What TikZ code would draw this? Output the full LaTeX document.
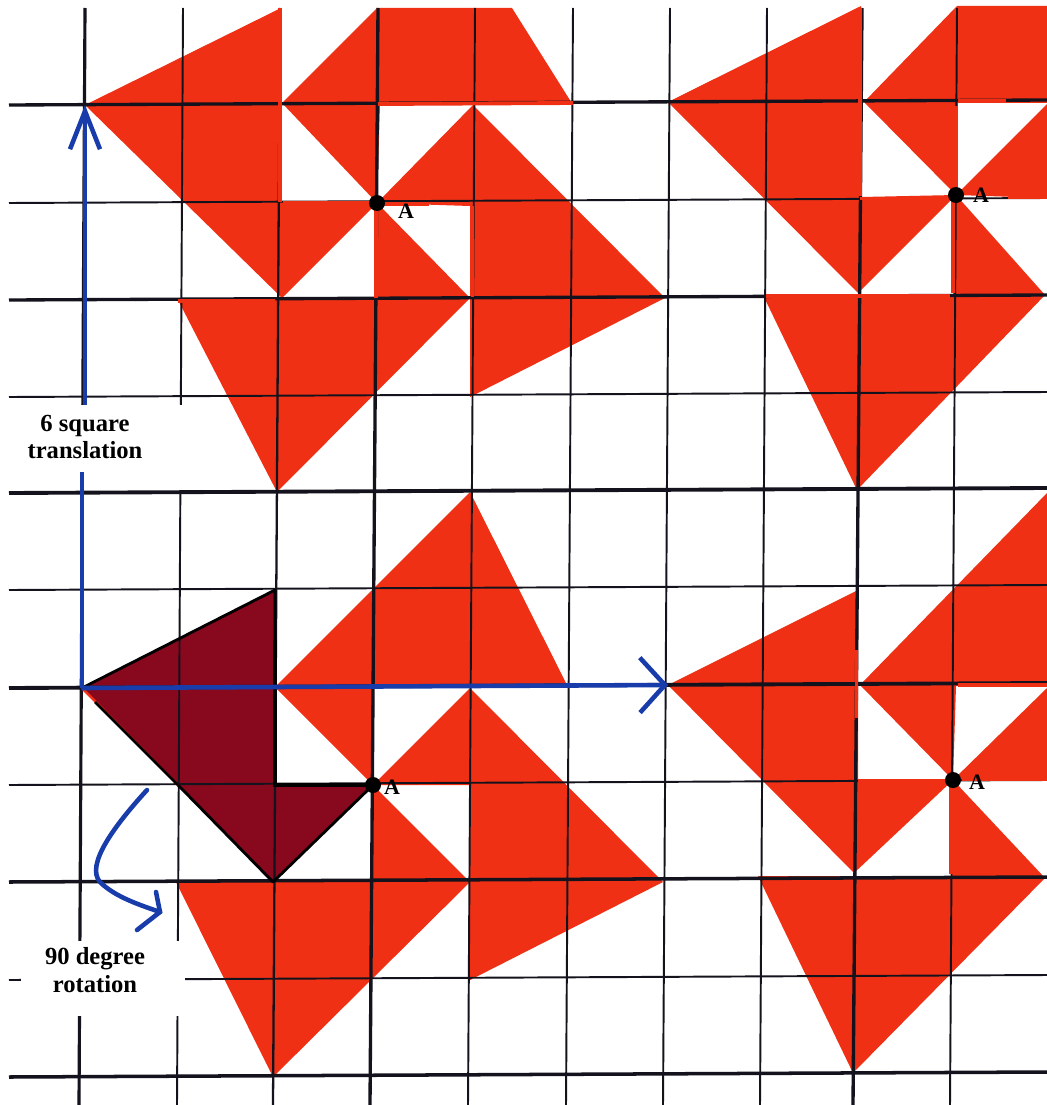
\documentclass[tikz,border=0pt]{standalone}
\usepackage{fontspec}
\setmainfont{Liberation Serif}
\usetikzlibrary{arrows.meta}
\definecolor{tilered}{RGB}{240,48,20}
\definecolor{tiledark}{RGB}{136,8,30}
\definecolor{pathblue}{RGB}{24,60,170}
\definecolor{gridblack}{RGB}{20,18,28}
\newcommand{\titik}[1]{\foreach \p in {#1} \fill[black] (\p) circle (8);}
\tikzset{
  tile/.style={fill=tilered},
  gridline/.style={draw=gridblack,line width=#1},
  path/.style={draw=pathblue,line width=2.6pt},
  caption/.style={font=\bfseries\fontsize{14}{15.5}\selectfont,align=center,inner sep=0pt},
  pointlabel/.style={font=\bfseries\fontsize{12.5}{12.5}\selectfont,inner sep=0pt},
  hidden/.style={draw=tilered,line width=2.2pt},
}

\begin{document}
\begin{tikzpicture}[x=0.02cm,y=-0.02cm]
  \useasboundingbox (0,0) rectangle (1047,1105);
  \fill[white] (0,0) rectangle (1047,1105);

  \coordinate (A1) at (377,203);
  \coordinate (A2) at (956,195);
  \coordinate (A3) at (373,785);
  \coordinate (A4) at (953,780);
  \coordinate (T0) at (82,688);
  \coordinate (T1) at (85,105);
  \coordinate (T2) at (668,685);
  \coordinate (R0) at (147,790);
  \coordinate (R1) at (100,882);
  \coordinate (R2) at (160,912);

  % top left
  \fill[tile] (85,105) -- (281,8) -- (281,201) -- (A1) -- (282,298) -- cycle;
  \fill[tile] (282,103) -- (377,8) -- (512,8) -- (573,105) -- (380,105) -- (A1) -- cycle;
  \fill[tile] (A1) -- (473,105) -- (665,298) -- (470,397) -- (470,206) -- cycle;
  \fill[tile] (A1) -- (470,298) -- (277,492) -- (178,300) -- (374,300) -- cycle;
  % top right
  \fill[tile] (668,102) -- (861,6) -- (861,197) -- (A2) -- (858,293) -- cycle;
  \fill[tile] (864,102) -- (957,6) -- (1047,6) -- (1047,103) -- (958,103) -- (A2) -- cycle;
  \fill[tile] (A2) -- (1047,104) -- (1047,198) -- cycle;
  \fill[tile] (A2) -- (1045,295) -- (857,490) -- (763,295) -- (953,295) -- cycle;
  % bottom left
  \fill[tile] (275,687) -- (470,492) -- (568,687) -- (373,687) -- (A3) -- cycle;
  \fill[tile] (A3) -- (470,688) -- (663,882) -- (470,980) -- (470,785) -- cycle;
  \fill[tile] (A3) -- (470,882) -- (273,1077) -- (176,882) -- (371,882) -- cycle;
  % bottom right
  \fill[tile] (668,685) -- (858,590) -- (858,779) -- (A4) -- (854,873) -- cycle;
  \fill[tile] (860,685) -- (1047,493) -- (1047,685) -- (956,686) -- (A4) -- cycle;
  \fill[tile] (A4) -- (1047,688) -- (1047,780) -- cycle;
  \fill[tile] (A4) -- (1045,878) -- (853,1073) -- (758,876) -- (951,876) -- cycle;
  % motif
  \fill[tiledark] (T0) -- (275,590) -- (275,785) -- (A3) -- (273,882) -- cycle;

  % grid, top end x / bottom end x / width
  \foreach \x/\b/\w in {85/79/1.8pt,183/177/1.1pt,280/273/1.3pt,378/370/1.9pt,475/468/1.1pt,
                        573/566/1.1pt,670/663/1.1pt,767/760/1.1pt,862/853/1.9pt,957/950/1.1pt}
    \draw[gridline=\w] (\x,8) -- (\b,1105);
  \foreach \y/\w in {105/1.9pt,203/1.1pt,300/1.9pt,397/1.1pt,493/2.2pt,590/1.1pt,
                     688/2.2pt,785/1.1pt,882/2pt,980/1.1pt,1077/2pt}
    \draw[gridline=\w] (9,\y) -- (1047,\y-5);

  % grid lines lost under the tiles
  \foreach \a/\b in {{280,8}/{280,202},{378,104}/{573,103},{283,203}/{370,203},{376,206}/{376,298},
                     {380,204}/{429,204},{472.5,206}/{472.5,297},{178,301}/{275,301},
                     {860,8}/{860,196},{958,101}/{1006,101},{860,198.5}/{949,198.5},
                     {956,106}/{956,188},{953,198}/{953,293},{766,296}/{950,296},{1008,197}/{1047,197},
                     {856.5,650}/{856.5,718},{858,780.5}/{946,780.5},{951,786}/{951,874},
                     {958,685}/{1047,685},{962,779.5}/{1047,779.5}}
    \draw[hidden] (\a) -- (\b);

  % motif outline
  \draw[draw=black,line width=1.6pt,line join=round]
    (T0) -- (275,590) -- (275,785) -- (A3) -- (273,882) -- (178,785);
  \draw[draw=black,line width=2.2pt] (275,640) -- (275,785) -- (A3);
  \draw[draw=tilered,line width=1.4pt] (T0) -- (178,785);
  \draw[draw=black,line width=1.6pt] (95,702) -- (178,785);

  % masks round the captions
  \fill[white] (20,405) rectangle (225,490);
  \fill[white] (21,941) rectangle (185,1016);
  \node[caption] (transl) at (85,437) {6 square\\translation};
  \node[caption] (rotn) at (95,970) {90 degree\\rotation};

  % arrows
  \draw[path] (T0) -- (82,472);
  \draw[path,-{Straight Barb[length=7.6mm,width=6mm,line width=2.6pt]}] (85,405) -- (T1);
  \draw[path,-{Straight Barb[length=5mm,width=11mm,line width=2.6pt]}] (T0) -- (T2);
  \draw[path,line cap=round] (R0) .. controls (115,825) and (85,865) .. (R1) .. controls (115,897) and (140,905) .. (R2);
  \draw[path,line cap=round] (156,892) -- (R2) -- (137,930);

  \titik{A1,A2,A3,A4}
  \node[pointlabel] (la1) at (406,211) {A};
  \node[pointlabel] (la2) at (981,195) {A};
  \node[pointlabel] (la3) at (392,787) {A};
  \node[pointlabel] (la4) at (977,782) {A};
\end{tikzpicture}
\end{document}
